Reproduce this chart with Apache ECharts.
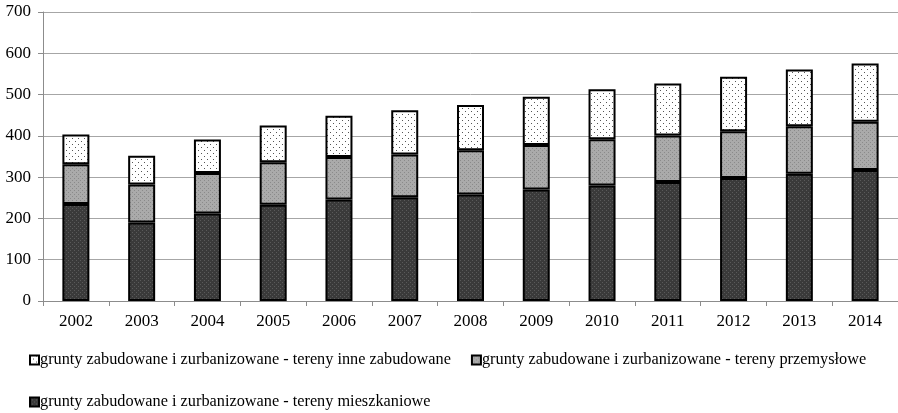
<!DOCTYPE html>
<html>
<head>
<meta charset="utf-8">
<script src="https://cdn.jsdelivr.net/npm/echarts@6/dist/echarts.min.js"></script>
<style>
  html, body { margin: 0; padding: 0; background: #fff; }
  #chart { width: 898px; height: 413px; }
</style>
</head>
<body>
<div id="chart"></div>
<script>
const years = ['2002', '2003', '2004', '2005', '2006', '2007', '2008', '2009', '2010', '2011', '2012', '2013', '2014']
const residential = [235, 190, 212, 233, 246, 251, 258, 270, 280, 288, 298, 308, 317]
const industrial = [96, 92, 98, 103, 103, 104, 107, 108, 112, 113, 113, 115, 117]
const otherBuilt = [72, 70, 81, 89, 100, 107, 110, 117, 121, 126, 132, 138, 141]
const names = [
  'grunty zabudowane i zurbanizowane - tereny mieszkaniowe',
  'grunty zabudowane i zurbanizowane - tereny przemysłowe',
  'grunty zabudowane i zurbanizowane - tereny inne zabudowane'
]

// small dotted textures like the original print
function pattern(bg, dot, step) {
  const c = document.createElement('canvas')
  c.width = step * 2
  c.height = step * 2
  const ctx = c.getContext('2d')
  ctx.fillStyle = bg
  ctx.fillRect(0, 0, c.width, c.height)
  ctx.fillStyle = dot
  ctx.fillRect(0, 0, 1, 1)
  ctx.fillRect(step, step, 1, 1)
  return { image: c, repeat: 'repeat' }
}

const fills = [
  pattern('#3a3a3a', '#5a5a5a', 2),
  pattern('#aaaaaa', '#8a8a8a', 2),
  pattern('#ffffff', '#555555', 3)
]

const chart = echarts.init(document.getElementById('chart'))
const font = 'Liberation Serif'
const data = [residential, industrial, otherBuilt]

const legendText = { fontFamily: font, fontSize: 16.3, color: '#000', padding: [0, 0, 0, -4] }

chart.setOption({
  animation: false,
  textStyle: { fontFamily: font },
  grid: { left: 43, right: 0, top: 12, bottom: 112 },
  legend: [{
    data: [names[2], names[1]],
    left: 24,
    top: 347,
    icon: 'rect',
    itemWidth: 9,
    itemHeight: 9,
    itemGap: 20,
    textStyle: legendText
  }, {
    data: [names[0]],
    left: 24,
    top: 389,
    icon: 'rect',
    itemWidth: 9,
    itemHeight: 9,
    textStyle: legendText
  }],
  xAxis: {
    type: 'category',
    data: years,
    axisLine: { lineStyle: { color: '#8c8c8c' } },
    axisTick: { show: true, length: 5, lineStyle: { color: '#8c8c8c' } },
    axisLabel: { color: '#000', fontSize: 17, fontFamily: font, margin: 12 }
  },
  yAxis: {
    type: 'value',
    min: 0,
    max: 700,
    interval: 100,
    axisLine: { show: true, lineStyle: { color: '#8c8c8c' } },
    axisTick: { show: true, length: 5, lineStyle: { color: '#8c8c8c' } },
    axisLabel: { color: '#000', fontSize: 17, fontFamily: font, margin: 12 },
    splitLine: { lineStyle: { color: '#a6a6a6' } }
  },
  series: data.map((vals, i) => ({
    name: names[i],
    type: 'bar',
    stack: 'total',
    barWidth: 27,
    data: vals,
    itemStyle: { color: fills[i], borderColor: '#000', borderWidth: 2 }
  }))
})
</script>
</body>
</html>
